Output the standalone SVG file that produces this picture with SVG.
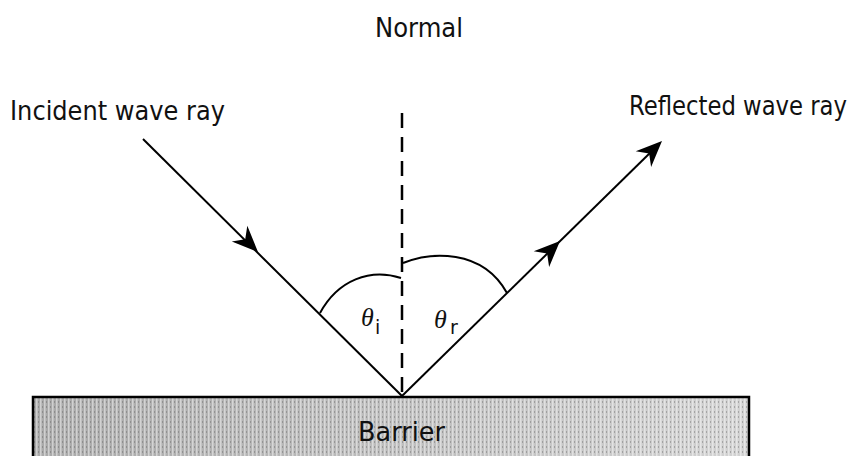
<svg xmlns="http://www.w3.org/2000/svg" width="860" height="456" viewBox="0 0 860 456">
  <defs>
    <style>
      .lbl { font-family: "DejaVu Sans", sans-serif; font-size: 26px; fill: #111; }
      .ln { stroke: #000; stroke-width: 2; fill: none; }
      .theta { font-family: "Liberation Serif", serif; font-style: italic; font-size: 26px; fill: #111; }
      .sub { font-family: "DejaVu Sans", sans-serif; font-size: 19px; fill: #111; }
    </style>
    <path id="ah" d="M0,0 L-26,-11 L-18,0 L-26,11 Z" fill="#000"/>
    <linearGradient id="bg" x1="0" y1="0" x2="1" y2="0">
      <stop offset="0" stop-color="#a9a9a9"/>
      <stop offset="0.5" stop-color="#bdbdbd"/>
      <stop offset="1" stop-color="#d2d2d2"/>
    </linearGradient>
    <pattern id="stripes" width="4" height="5" patternUnits="userSpaceOnUse">
      <rect x="0" y="0" width="1.5" height="5" fill="#ffffff" opacity="0.45"/>
      <rect x="2" y="1" width="1" height="2" fill="#555" opacity="0.35"/>
    </pattern>
  </defs>

  <g id="barrier">
    <rect x="33" y="397" width="716" height="70" fill="url(#bg)"/>
    <rect x="33" y="397" width="716" height="70" fill="url(#stripes)"/>
    <path d="M33,460 V397 H749 V460" stroke="#000" stroke-width="2.5" fill="none"/>
    <text class="lbl" x="358" y="441" textLength="87" lengthAdjust="spacingAndGlyphs">Barrier</text>
  </g>

  <g id="normal">
    <line x1="402" y1="113" x2="402" y2="396" stroke="#000" stroke-width="2.5" stroke-dasharray="15 9"/>
    <text class="lbl" x="375" y="37" textLength="88" lengthAdjust="spacingAndGlyphs">Normal</text>
  </g>

  <g id="incident">
    <text class="lbl" x="10" y="120" textLength="215" lengthAdjust="spacingAndGlyphs">Incident wave ray</text>
  </g>

  <g id="reflected">
    <text class="lbl" transform="translate(629,115) scale(0.875,1)" x="0" y="0">Reflected wave ray</text>
  </g>

  <g id="angle-i">
    <path class="ln" d="M320,313 C338,280 370,268 401,278"/>
    <text class="theta" x="361" y="326">θ</text>
    <text class="sub" x="375" y="334">i</text>
  </g>

  <g id="angle-r">
    <path class="ln" d="M403,263 C430,252 482,248 507,293"/>
    <text class="theta" x="434" y="328">θ</text>
    <text class="sub" x="450" y="334">r</text>
  </g>

  <g id="connectors">
    <line class="ln" x1="143" y1="139" x2="402" y2="396"/>
    <line class="ln" x1="402" y1="396" x2="653" y2="150"/>
    <use href="#ah" transform="translate(258,252) rotate(44.8)"/>
    <use href="#ah" transform="translate(560,241) rotate(-44.4)"/>
    <use href="#ah" transform="translate(662,141) rotate(-44.4)"/>
  </g>
</svg>
